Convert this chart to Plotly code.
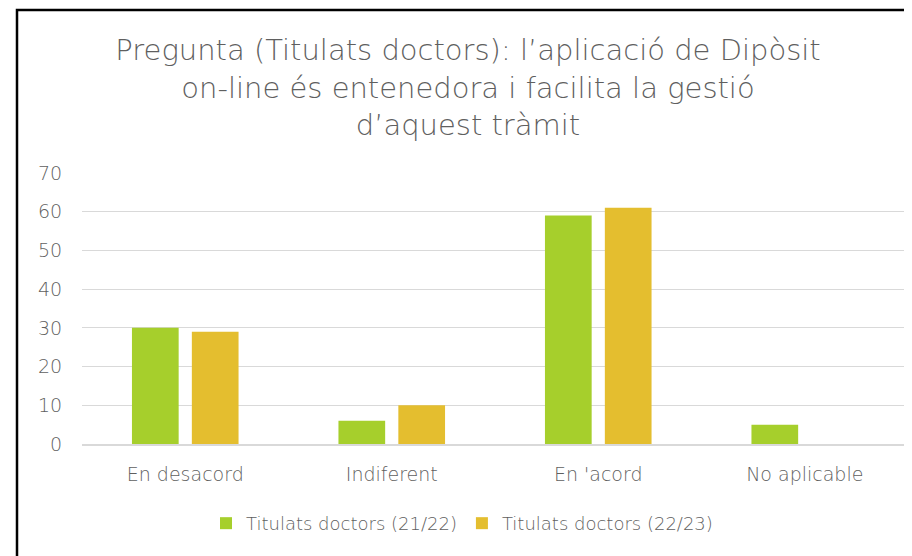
import plotly.graph_objects as go

categories = ["En desacord", "Indiferent", "En 'acord", "No aplicable"]
series_names = ["Titulats doctors (21/22)", "Titulats doctors (22/23)"]
values_2122 = [30, 6, 59, 5]
values_2223 = [29, 10, 61, 0]
colors = ["#A6CF2C", "#E4BE2F"]
y_ticks = [0, 10, 20, 30, 40, 50, 60, 70]

title_text = ("Pregunta (Titulats doctors): l\u2019aplicació de Dipòsit<br>"
              "on-line és entenedora i facilita la gestió<br>"
              "d\u2019aquest tràmit")

FONT = "'DejaVu Sans', sans-serif"
GREY = "#5f5f5f"

fig = go.Figure()
for name, vals, col in zip(series_names, [values_2122, values_2223], colors):
    fig.add_trace(go.Bar(x=categories, y=vals, name=name, marker_color=col,
                         marker_line_width=0))

# page body has an 8px margin, so the figure is drawn at (8, 8)
OFF = 8
W, H = 912 - OFF, 556 - OFF
ml, mr, mt, mb = 82 - OFF, 4, 173 - OFF, 112
pw, ph = W - ml - mr, H - mt - mb

def px_to_paper_x(px):
    return (px - OFF - ml) / pw

def px_to_paper_y(py):
    return (H - mb - (py - OFF)) / ph

fig.update_layout(
    width=W, height=H,
    margin=dict(l=ml, r=mr, t=mt, b=mb),
    paper_bgcolor="white", plot_bgcolor="white",
    barmode="group", bargap=0.42, bargroupgap=0.22,
    title=dict(text=title_text, x=(468 - OFF) / W, xanchor="center", xref="container",
               y=1 - 52 / H, yanchor="top",
               font=dict(family=FONT, size=29, color=GREY, weight=300)),
    font=dict(family=FONT, color=GREY),
    showlegend=True,
    legend=dict(orientation="h", x=px_to_paper_x(462), xanchor="center",
                y=-0.225, yanchor="top",
                font=dict(size=18, color=GREY, weight=300), itemwidth=30,
                traceorder="normal"),
    xaxis=dict(showgrid=False, showline=True, linecolor="#D9D9D9", linewidth=1.5,
               tickfont=dict(size=19, color=GREY, weight=300), ticks="outside",
               ticklen=12, tickcolor="white"),
    yaxis=dict(range=[0, 70], tickvals=y_ticks, showgrid=True, gridcolor="#D9D9D9",
               gridwidth=1.2, zeroline=False, showline=False,
               tickfont=dict(size=19, color=GREY, weight=300), ticks="outside",
               ticklen=15, tickcolor="white"),
    shapes=[dict(type="rect", xref="paper", yref="paper",
                 x0=px_to_paper_x(17), x1=px_to_paper_x(912 + 20),
                 y0=px_to_paper_y(556 + 20), y1=px_to_paper_y(10),
                 line=dict(color="black", width=2.5), fillcolor="rgba(0,0,0,0)",
                 layer="above")],
)

fig.write_html("out.html")
